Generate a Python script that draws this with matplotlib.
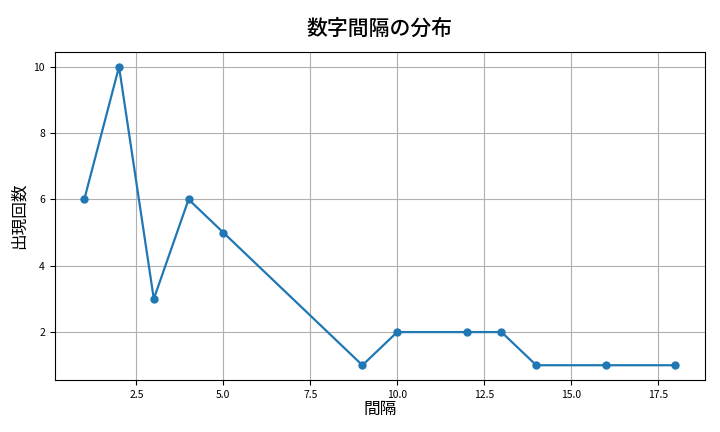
import matplotlib
matplotlib.use("Agg")
import matplotlib.pyplot as plt

plt.rcParams['font.family'] = ['Noto Sans CJK JP', 'DejaVu Sans']

# data
intervals = [1, 2, 3, 4, 5, 9, 10, 12, 13, 14, 16, 18]
counts = [6, 10, 3, 6, 5, 1, 2, 2, 2, 1, 1, 1]

fig = plt.figure(figsize=(7.2, 4.32), dpi=100)
ax = fig.add_axes([0.076, 0.12, 0.903, 0.76])
ax.plot(intervals, counts, marker='o', color='#1f77b4', linewidth=1.6, markersize=5)
ax.set_title("数字間隔の分布", fontsize=15, fontweight='medium', pad=12)
ax.set_xlabel("間隔", fontsize=12, labelpad=1)
ax.set_ylabel("出現回数", fontsize=12)
ax.tick_params(labelsize=7.5)
ax.grid(True, color='#b0b0b0', linewidth=0.8)

fig.savefig("out.png", dpi=100)
